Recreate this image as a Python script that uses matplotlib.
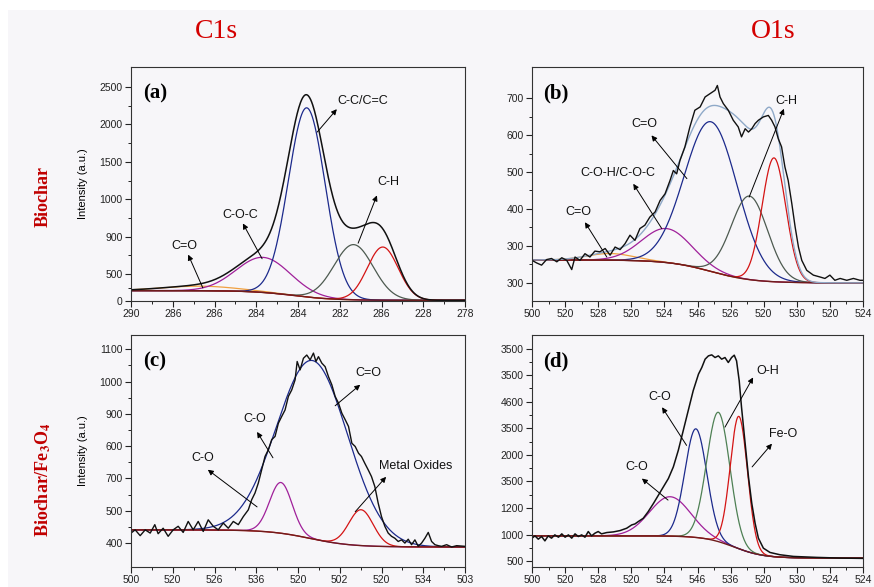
import numpy as np
import matplotlib
matplotlib.use('Agg')
import matplotlib.pyplot as plt
from matplotlib.patches import Rectangle

plt.rcParams['font.family'] = ['Liberation Sans', 'DejaVu Sans']
plt.rcParams['mathtext.fontset'] = 'stix'

# ---------------- data ----------------
# x positions are tick-index units (the printed tick labels are kept as text)
xlab_a = ['290', '286', '286', '284', '284', '282', '286', '228', '278']
xlab_b = ['500', '520', '528', '520', '524', '546', '526', '520', '530', '520', '524']
xlab_c = ['500', '520', '526', '536', '520', '502', '520', '534', '503']
xlab_d = ['500', '520', '528', '520', '524', '546', '536', '520', '530', '524', '524']

ypos_a = [-361, 0, 500, 1000, 1500, 2000, 2500]
ylab_a = ['0', '500', '900', '1000', '1500', '2000', '2500']
ypos_b = [200, 300, 400, 500, 600, 700]
ylab_b = ['300', '300', '400', '500', '600', '700']
ypos_c = [500, 600, 700, 800, 900, 1000, 1100]
ylab_c = ['400', '500', '700', '600', '900', '1000', '1100']
ypos_d = [500, 1000, 1500, 2000, 2500, 3000, 3500, 4000, 4500]
ylab_d = ['500', '1000', '1200', '3500', '2000', '3500', '4600', '3500', '3500']

# background (left level, right level, centre, width)
bg_a = (-222, -352, 3.89, 1.0)
bg_b = (262, 200, 5.4, 1.3)
bg_c = (541, 488, 4.29, 1.0)
bg_d = (975, 556, 6.1, 0.9)

# fitted peaks: centre, height, sigma, colour
peaks_a = [(1.65, 61, 0.9, '#f0a040'), (3.17, 469, 0.65, '#a0209a'),
           (4.21, 2529, 0.44, '#1c2a8c'), (5.33, 738, 0.47, '#4d5a50'),
           (6.03, 711, 0.37, '#d41414')]
peaks_b = [(2.36, 18, 0.7, '#f0a040'), (4.07, 92, 0.75, '#a0209a'),
           (5.41, 405, 0.8, '#1c2a8c'), (6.57, 226, 0.55, '#4d5a50'),
           (7.31, 335, 0.36, '#d41414')]
peaks_c = [(3.59, 157, 0.27, '#a0209a'), (4.35, 552, 0.85, '#1c2a8c'),
           (5.51, 111, 0.29, '#d41414')]
peaks_d = [(4.17, 742, 0.62, '#a0209a'), (4.95, 2045, 0.33, '#1c2a8c'),
           (5.63, 2435, 0.35, '#4e8054'), (6.25, 2494, 0.26, '#d41414')]

# measured spectra
raw_b_x = [0.00, 0.14, 0.29, 0.44, 0.59, 0.75, 0.90, 1.05, 1.20, 1.30, 1.45, 1.60, 1.75, 1.90,
           2.05, 2.21, 2.36, 2.51, 2.66, 2.81, 2.96, 3.11, 3.26, 3.41, 3.56, 3.72, 3.87, 4.02,
           4.17, 4.27, 4.37, 4.47, 4.62, 4.77, 4.92, 5.08, 5.23, 5.38, 5.53, 5.60, 5.68, 5.78,
           5.93, 6.08, 6.23, 6.33, 6.44, 6.54, 6.64, 6.74, 6.84, 6.99, 7.14, 7.24, 7.34, 7.44,
           7.54, 7.64, 7.74, 7.85, 7.95, 8.05, 8.15, 8.30, 8.50, 8.70, 8.85, 9.00, 9.15, 9.31,
           9.51, 9.71, 9.91, 10.0]
raw_b_y = [261, 254, 248, 263, 266, 257, 268, 261, 236, 270, 261, 279, 270, 286,
           284, 293, 275, 297, 290, 306, 329, 315, 347, 356, 378, 392, 423, 441,
           477, 504, 495, 531, 568, 622, 667, 676, 703, 712, 721, 734, 703, 685,
           667, 640, 622, 595, 617, 608, 617, 631, 640, 649, 653, 640, 622, 590,
           568, 514, 477, 414, 351, 297, 261, 234, 221, 216, 212, 221, 207, 212,
           207, 212, 207, 207]

raw_c_x = [0.00, 0.10, 0.22, 0.34, 0.46, 0.57, 0.65, 0.77, 0.89, 1.01, 1.13, 1.25, 1.37, 1.49,
           1.61, 1.73, 1.85, 1.97, 2.09, 2.21, 2.33, 2.45, 2.57, 2.69, 2.81, 2.89, 2.97, 3.05,
           3.13, 3.21, 3.29, 3.37, 3.45, 3.53, 3.61, 3.69, 3.77, 3.85, 3.93, 3.98, 4.05, 4.13,
           4.21, 4.29, 4.37, 4.43, 4.49, 4.57, 4.65, 4.73, 4.81, 4.89, 4.97, 5.05, 5.13, 5.21,
           5.29, 5.37, 5.45, 5.52, 5.60, 5.68, 5.76, 5.84, 5.92, 6.00, 6.08, 6.16, 6.24, 6.32,
           6.40, 6.48, 6.56, 6.64, 6.72, 6.80, 6.88, 6.96, 7.04, 7.12, 7.20, 7.28, 7.36, 7.44,
           7.56, 7.68, 7.80, 8.00]
raw_c_y = [531, 541, 523, 541, 531, 557, 529, 546, 521, 541, 552, 533, 567, 541,
           567, 536, 572, 552, 541, 562, 546, 567, 557, 582, 603, 634, 655, 686,
           727, 768, 789, 820, 830, 871, 892, 912, 954, 974, 1005, 1062, 1036, 1072,
           1082, 1067, 1088, 1062, 1077, 1057, 1046, 1015, 990, 954, 933, 902, 882, 861,
           809, 799, 778, 768, 747, 727, 706, 675, 624, 582, 552, 531, 521, 515,
           505, 510, 500, 512, 495, 510, 490, 500, 515, 533, 505, 495, 492, 490,
           495, 488, 492, 490]

raw_d_x = [0.00, 0.09, 0.19, 0.29, 0.39, 0.49, 0.59, 0.69, 0.80, 0.90, 1.00, 1.10, 1.20, 1.30,
           1.40, 1.50, 1.60, 1.70, 1.80, 1.90, 2.00, 2.10, 2.26, 2.46, 2.66, 2.86, 3.01, 3.11,
           3.21, 3.36, 3.51, 3.67, 3.82, 3.97, 4.12, 4.27, 4.42, 4.57, 4.72, 4.87, 5.03, 5.13,
           5.23, 5.33, 5.43, 5.53, 5.63, 5.73, 5.83, 5.93, 6.03, 6.11, 6.18, 6.26, 6.33, 6.44,
           6.54, 6.64, 6.74, 6.84, 6.99, 7.19, 7.49, 7.90, 8.60, 9.31, 10.0]
raw_d_y = [931, 974, 912, 962, 880, 974, 931, 993, 949, 1012, 949, 993, 931, 1012,
           962, 993, 949, 1056, 974, 1024, 1056, 1012, 1037, 1049, 1074, 1118, 1180, 1199,
           1243, 1305, 1430, 1586, 1742, 1898, 2054, 2273, 2585, 2959, 3334, 3708, 4021, 4145,
           4302, 4364, 4383, 4333, 4364, 4302, 4333, 4239, 4333, 4377, 4270, 3896, 3396, 2710,
           2085, 1586, 1212, 931, 743, 662, 619, 587, 569, 556, 550]

# ---------------- helpers ----------------
BG = '#f7f6f9'


def gauss(x, c, h, s):
    return h * np.exp(-(x - c) ** 2 / (2 * s * s))


def background(x, bg):
    left, right, c, w = bg
    return right + (left - right) * 0.5 * (1 - np.tanh((x - c) / w))


def setup(ax, xlabels, ypos, ylabels, ylim):
    n = len(xlabels) - 1
    ax.set_facecolor(BG)
    ax.set_xlim(0, n)
    ax.set_xticks(range(n + 1))
    ax.set_xticklabels(xlabels)
    ax.set_xticks(np.arange(0.5, n, 1), minor=True)
    ax.set_yticks(ypos)
    ax.set_yticklabels(ylabels)
    ax.set_yticks([(a + b) / 2 for a, b in zip(ypos[:-1], ypos[1:])], minor=True)
    ax.set_ylim(ylim)
    ax.tick_params(direction='out', length=4, width=0.8, labelsize=7.5, pad=2, colors='#222222')
    ax.tick_params(which='minor', direction='out', length=2.2, width=0.6)
    for s in ax.spines.values():
        s.set_linewidth(0.8)
        s.set_color('#333333')


def draw_fit(ax, xlabels, bg, peaks, envelope_color=None):
    x = np.linspace(0, len(xlabels) - 1, 600)
    base = background(x, bg)
    total = base.copy()
    for c, h, s, col in peaks:
        comp = gauss(x, c, h, s)
        total += comp
        ax.plot(x, base + comp, color=col, lw=0.9)
    ax.plot(x, base, color='#6e1c1c', lw=1.0)
    if envelope_color:
        ax.plot(x, total, color=envelope_color, lw=1.0)
    return x, total


def label_arrows(ax, items):
    for txt, tpos, tail, head, ha in items:
        ax.annotate('', xy=head, xytext=tail,
                    arrowprops=dict(arrowstyle='-|>', color='black', lw=0.7,
                                    mutation_scale=8, shrinkA=0, shrinkB=0))
        ax.text(tpos[0], tpos[1], txt, fontsize=9, ha=ha, va='center', color='#111111')


fig = plt.figure(figsize=(8.74, 5.87), dpi=100)
fig.patch.set_facecolor('white')
fig.add_artist(Rectangle((8 / 874, 0), 1, 1 - 10 / 587, transform=fig.transFigure,
                         facecolor=BG, edgecolor='none', zorder=-10))

ax_a = fig.add_axes([131 / 874, 1 - 301 / 587, 334 / 874, 234 / 587])
ax_b = fig.add_axes([532 / 874, 1 - 301 / 587, 331 / 874, 234 / 587])
ax_c = fig.add_axes([131 / 874, 1 - 567 / 587, 334 / 874, 232 / 587])
ax_d = fig.add_axes([532 / 874, 1 - 567 / 587, 331 / 874, 232 / 587])

# (a)
setup(ax_a, xlab_a, ypos_a, ylab_a, (-361, 2768))
xa, tot_a = draw_fit(ax_a, xlab_a, bg_a, peaks_a)
ax_a.plot(xa, tot_a, color='#111111', lw=1.1)
label_arrows(ax_a, [
    ('C-C/C=C', (4.95, 2315), (4.46, 1898), (4.93, 2204), 'left'),
    ('C-H', (6.16, 1231), (5.44, 412), (5.89, 1051), 'center'),
    ('C-O-C', (2.61, 787), (3.14, 204), (2.68, 676), 'center'),
    ('C=O', (1.29, 370), (1.72, -185), (1.37, 259), 'center'),
])

# (b)
setup(ax_b, xlab_b, ypos_b, ylab_b, (151, 784))
draw_fit(ax_b, xlab_b, bg_b, peaks_b, envelope_color='#8fa9c8')
ax_b.plot(raw_b_x, raw_b_y, color='#111111', lw=1.0)
label_arrows(ax_b, [
    ('C-H', (7.67, 692), (6.56, 432), (7.61, 671), 'center'),
    ('C=O', (3.41, 631), (4.68, 482), (3.61, 599), 'center'),
    ('C-O-H/C-O-C', (2.58, 496), (3.92, 347), (3.06, 468), 'center'),
    ('C=O', (1.40, 392), (2.26, 270), (1.60, 364), 'center'),
])

# (c)
setup(ax_c, xlab_c, ypos_c, ylab_c, (426, 1144))
draw_fit(ax_c, xlab_c, bg_c, peaks_c)
ax_c.plot(raw_c_x, raw_c_y, color='#111111', lw=1.0)
label_arrows(ax_c, [
    ('C=O', (5.68, 1027), (4.89, 925), (5.49, 990), 'center'),
    ('C-O', (2.97, 885), (3.40, 764), (3.02, 844), 'center'),
    ('C-O', (1.72, 764), (3.02, 612), (1.84, 727), 'center'),
    ('Metal Oxides', (5.94, 739), (5.37, 597), (6.11, 705), 'left'),
])

# (d)
setup(ax_d, xlab_d, ypos_d, ylab_d, (388, 4757))
draw_fit(ax_d, xlab_d, bg_d, peaks_d)
ax_d.plot(raw_d_x, raw_d_y, color='#111111', lw=1.1)
label_arrows(ax_d, [
    ('O-H', (7.13, 4083), (5.83, 3022), (6.68, 3958), 'center'),
    ('Fe-O', (7.58, 2897), (6.65, 2273), (7.25, 2710), 'center'),
    ('C-O', (3.87, 3584), (4.67, 2678), (3.93, 3396), 'center'),
    ('C-O', (3.17, 2273), (4.11, 1648), (3.32, 2054), 'center'),
])

for ax, tag in zip([ax_a, ax_b, ax_c, ax_d], ['(a)', '(b)', '(c)', '(d)']):
    ax.text(0.035, 0.93, tag, transform=ax.transAxes, fontsize=15, fontweight='bold',
            family='Liberation Serif', va='top', ha='left')

for ax in [ax_a, ax_c]:
    ax.set_ylabel('Intensity (a.u.)', fontsize=8)
    ax.yaxis.set_label_coords(-0.128, 0.5)

fig.text(216 / 874, 1 - 32 / 587, 'C1s', color='#d40000', fontsize=20,
         family='Liberation Serif', ha='center', va='center')
fig.text(773 / 874, 1 - 32 / 587, 'O1s', color='#d40000', fontsize=20,
         family='Liberation Serif', ha='center', va='center')
fig.text(43 / 874, 1 - 197 / 587, 'Biochar', color='#c00000', fontsize=13,
         family='Liberation Serif', fontweight='bold', rotation=90, ha='center', va='center')
fig.text(43 / 874, 1 - 480 / 587, r'Biochar/Fe$_\mathbf{3}$O$_\mathbf{4}$', color='#c00000',
         fontsize=13, family='Liberation Serif', fontweight='bold', rotation=90,
         ha='center', va='center')

fig.savefig('out.png', dpi=100, facecolor=fig.get_facecolor())
